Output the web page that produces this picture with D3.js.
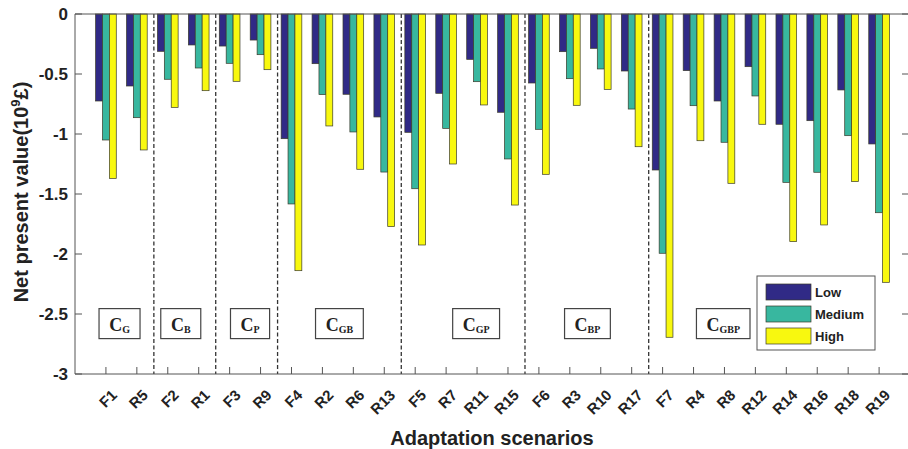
<!DOCTYPE html>
<meta charset="utf-8">
<title>Net present value by adaptation scenario</title>
<style>
body { margin: 0; background: #fff; }
svg { display: block; }
.axis-line { stroke: #555; stroke-width: 1; fill: none; }
.ylab, .xlab, .tlab, .leg text { font-family: "Liberation Sans", Arial, sans-serif; font-weight: bold; fill: #222; }
.ctext { font-family: "Liberation Serif", "Times New Roman", serif; font-weight: bold; fill: #222; }
</style>
<svg width="908" height="449"></svg>
<script src="https://d3js.org/d3.v7.min.js"></script>
<script>

// scenarios along the x axis
var scenarios = ["F1","R5","F2","R1","F3","R9","F4","R2","R6","R13","F5","R7","R11","R15",
                 "F6","R3","R10","R17","F7","R4","R8","R12","R14","R16","R18","R19"];

// net present value (10^9 £) per scenario
var low =    [-0.725,-0.600,-0.311,-0.258,-0.267,-0.217,-1.039,-0.414,-0.669,-0.858,-0.986,-0.661,-0.378,-0.819,
              -0.575,-0.314,-0.286,-0.475,-1.300,-0.472,-0.725,-0.439,-0.919,-0.889,-0.633,-1.083];
var medium = [-1.050,-0.864,-0.544,-0.450,-0.411,-0.339,-1.583,-0.672,-0.983,-1.317,-1.456,-0.953,-0.564,-1.208,
              -0.961,-0.539,-0.458,-0.792,-1.994,-0.764,-1.069,-0.683,-1.403,-1.319,-1.014,-1.656];
var high =   [-1.370,-1.133,-0.778,-0.639,-0.561,-0.464,-2.139,-0.933,-1.294,-1.772,-1.925,-1.250,-0.758,-1.592,
              -1.336,-0.761,-0.628,-1.106,-2.694,-1.056,-1.411,-0.919,-1.897,-1.758,-1.397,-2.236];

var seriesNames = ["Low", "Medium", "High"];
var seriesColors = ["#302a86", "#38b79f", "#f8f80f"];

// scenario groups (subscript of C) and how many scenarios each holds
var groupNames = ["G", "B", "P", "GB", "GP", "BP", "GBP"];
var groupSizes = [2, 2, 2, 4, 4, 4, 8];

var yTicks = [0, -0.5, -1, -1.5, -2, -2.5, -3];

var svg = d3.select("svg");
var mLeft = 75, mRight = 906, mTop = 14, mBottom = 374;

var x = d3.scaleLinear().domain([-1, 25.87]).range([mLeft, mRight]);
var y = d3.scaleLinear().domain([0, -3]).range([mTop, mBottom]);

var barW = x(0.223) - x(0);
var series = [low, medium, high];

// bars
series.forEach(function(vals, s) {
  svg.append("g").selectAll("rect")
    .data(vals)
    .enter().append("rect")
      .attr("x", function(d, i) { return x(i) + (s - 1.5) * barW; })
      .attr("y", y(0))
      .attr("width", barW)
      .attr("height", function(d) { return y(d) - y(0); })
      .attr("fill", seriesColors[s])
      .attr("stroke", "#3a3a2a")
      .attr("stroke-width", 0.7);
});

// group separators + labels
var start = 0;
var labelShift = [-0.06, -0.08, 0.16, 0.05, 0.47, 0.07, -1.54];
groupNames.forEach(function(g, k) {
  var end = start + groupSizes[k] - 1;
  if (k > 0) {
    svg.append("line")
      .attr("x1", x(start - 0.45)).attr("x2", x(start - 0.45))
      .attr("y1", y(0)).attr("y2", y(-3))
      .attr("stroke", "#333").attr("stroke-width", 1.3)
      .attr("stroke-dasharray", "4,2.5");
  }
  var cx = x((start + end) / 2 + labelShift[k]);
  var box = svg.append("rect");
  var t = svg.append("text").attr("class", "ctext")
    .attr("x", cx).attr("y", y(-2.64))
    .attr("text-anchor", "middle");
  t.append("tspan").attr("font-size", 18).text("C");
  t.append("tspan").attr("font-size", 10).attr("dy", 2).text(g);
  var bb = t.node().getBBox();
  box
    .attr("x", cx - (bb.width + 20) / 2).attr("y", y(-2.455))
    .attr("width", bb.width + 20).attr("height", y(-2.705) - y(-2.455))
    .attr("fill", "#fff").attr("stroke", "#444").attr("stroke-width", 1.2);
  start = end + 1;
});

// axes frame
svg.append("line").attr("class", "axis-line")
  .attr("x1", mLeft).attr("x2", mRight + 2).attr("y1", mTop).attr("y2", mTop);
svg.append("line").attr("class", "axis-line")
  .attr("x1", mLeft).attr("x2", mRight + 2).attr("y1", mBottom).attr("y2", mBottom);
svg.append("line").attr("class", "axis-line")
  .attr("x1", mLeft).attr("x2", mLeft).attr("y1", mTop).attr("y2", mBottom);

// y ticks, left and right, pointing inward
yTicks.forEach(function(v) {
  svg.append("line").attr("class", "axis-line")
    .attr("x1", mLeft).attr("x2", mLeft + 7).attr("y1", y(v)).attr("y2", y(v));
  svg.append("line").attr("class", "axis-line")
    .attr("x1", mRight - 4).attr("x2", mRight + 2).attr("y1", y(v)).attr("y2", y(v));
  svg.append("text").attr("class", "tlab")
    .attr("x", mLeft - 7).attr("y", y(v)).attr("dy", "0.36em")
    .attr("text-anchor", "end").attr("font-size", 17)
    .text(String(v));
});

// x ticks and rotated labels
scenarios.forEach(function(name, i) {
  svg.append("line").attr("class", "axis-line")
    .attr("x1", x(i)).attr("x2", x(i)).attr("y1", mBottom).attr("y2", mBottom - 7);
  svg.append("text").attr("class", "tlab")
    .attr("text-anchor", "end").attr("font-size", 15)
    .attr("transform", "translate(" + (x(i) + 12) + "," + (mBottom + 22) + ") rotate(-45)")
    .text(name);
});

// axis titles
svg.append("text").attr("class", "xlab")
  .attr("x", 492).attr("y", 445).attr("text-anchor", "middle")
  .attr("font-size", 20).text("Adaptation scenarios");

var yl = svg.append("text").attr("class", "ylab")
  .attr("transform", "translate(28,192) rotate(-90)")
  .attr("text-anchor", "middle").attr("font-size", 20);
yl.append("tspan").text("Net present value(10");
yl.append("tspan").attr("font-size", 13).attr("dy", -8).text("9");
yl.append("tspan").attr("dy", 8).text("£)");

// legend
var leg = svg.append("g").attr("class", "leg");
leg.append("rect")
  .attr("x", 757).attr("y", 276).attr("width", 118).attr("height", 74)
  .attr("fill", "#fff").attr("stroke", "#555").attr("stroke-width", 1);
seriesNames.forEach(function(n, s) {
  var ry = 284 + s * 22;
  leg.append("rect")
    .attr("x", 766).attr("y", ry).attr("width", 45).attr("height", 16)
    .attr("fill", seriesColors[s]).attr("stroke", "#3a3a2a").attr("stroke-width", 0.7);
  leg.append("text")
    .attr("x", 815).attr("y", ry + 8).attr("dy", "0.36em")
    .attr("font-size", 13).text(n);
});

</script>
